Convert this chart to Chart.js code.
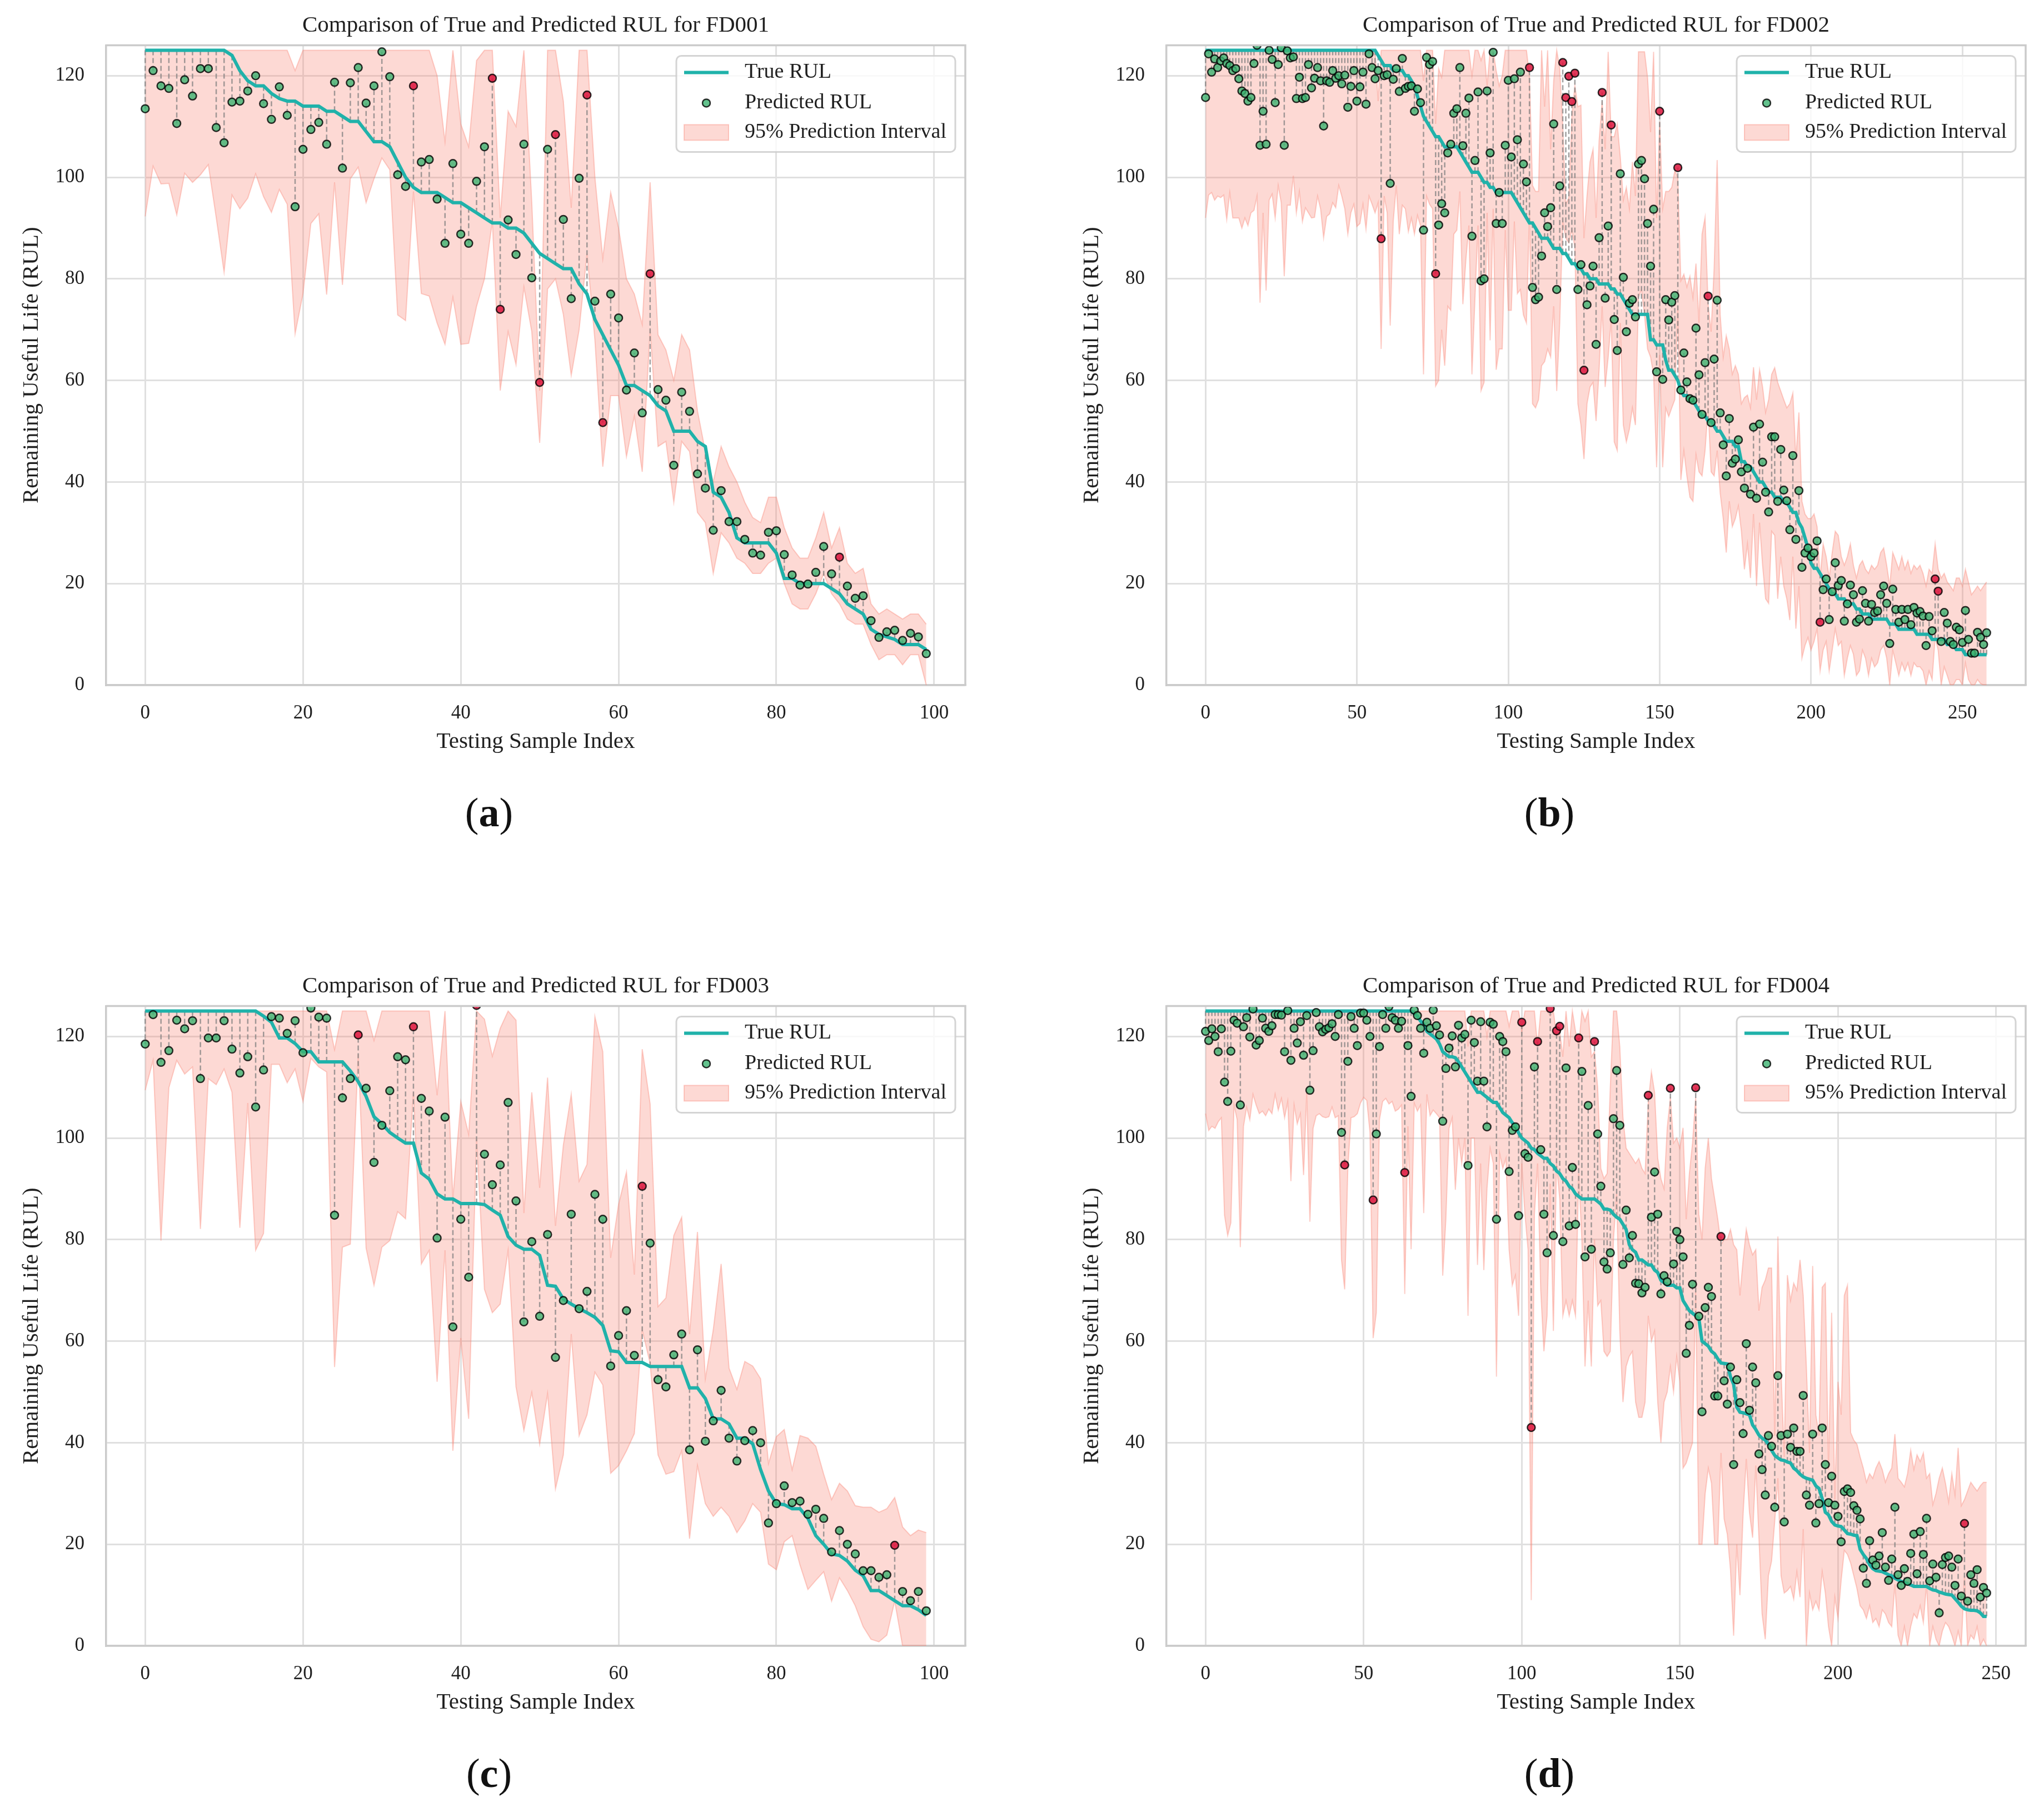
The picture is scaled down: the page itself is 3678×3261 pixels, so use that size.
<!DOCTYPE html>
<html>
<head>
<meta charset="utf-8">
<script src="https://cdn.jsdelivr.net/npm/chart.js@4.4.1/dist/chart.umd.min.js"></script>
<style>
html,body{margin:0;padding:0;background:#ffffff;}
body{width:3678px;height:3261px;position:relative;overflow:hidden;}
.panel{position:absolute;width:1800px;height:1400px;}
.tag{position:absolute;transform:translateX(-50%);font-family:"Liberation Serif",serif;font-size:74px;line-height:74px;color:#111;white-space:nowrap;}
</style>
</head>
<body>
<div class="panel" style="left:0px;top:0px"><canvas id="c1" width="1800" height="1400"></canvas></div>
<div class="panel" style="left:1908px;top:0px"><canvas id="c2" width="1800" height="1400"></canvas></div>
<div class="panel" style="left:0px;top:1729px"><canvas id="c3" width="1800" height="1400"></canvas></div>
<div class="panel" style="left:1908px;top:1729px"><canvas id="c4" width="1800" height="1400"></canvas></div>
<div class="tag" style="left:880px;top:1425px">(<b>a</b>)</div>
<div class="tag" style="left:2788px;top:1425px">(<b>b</b>)</div>
<div class="tag" style="left:880px;top:3154px">(<b>c</b>)</div>
<div class="tag" style="left:2788px;top:3154px">(<b>d</b>)</div>
<script>
// ---------------- DATA ----------------
const yTicks = [0,20,40,60,80,100,120];
const xTicks100 = [0,20,40,60,80,100];
const xTicks250 = [0,50,100,150,200,250];

// FD001
const true001 = [125,125,125,125,125,125,125,125,125,125,
125,124,121,119,118,118,116.5,115.5,115,115,
114,114,114,113,113,112,111,111,109,107,
107,106,103,100,98,97,97,97,96,95,
95,94,93,92,91,91,90,90,89,87,
85,84,83,82,82,79,77,72,69,66,
63,59,59,58,57,55,54,50,50,50,
48,47,38,37,34,29,28,28,28,28,
26,21,21,20,20,20,20,19,18,16,
15,14,11,10,9.5,9,8,8,8,7];
const pred001 = [113.5,121,118,117.5,110.6,119.2,116,121.4,121.4,109.8,
106.8,114.8,115,117,120,114.5,111.4,117.8,112.2,94.2,
105.5,109.4,110.8,106.5,118.7,101.8,118.6,121.6,114.6,118,
124.7,119.8,100.5,98.2,118,103,103.5,95.7,87,102.7,
88.8,87,99.2,106,119.5,74,91.6,84.8,106.5,80.2,
59.6,105.5,108.4,91.7,76.1,99.8,116.2,75.6,51.7,77,
72.3,58.1,65.4,53.6,81,58.2,56.1,43.3,57.7,53.9,
41.6,38.8,30.5,38.3,32.2,32.2,28.7,26,25.6,30.1,
30.4,25.7,21.7,19.7,19.9,22.2,27.3,21.9,25.2,19.5,
17.1,17.6,12.7,9.4,10.5,10.8,8.8,10.2,9.5,6.2];
const lower001 = [92.3,102.2,98.7,98.8,92.6,100.8,99,100.5,102.5,92.1,
81.3,96.5,93.8,95.9,100.7,96.2,93.1,97.6,94.7,69.2,
77.1,90.9,92.8,76.9,99,78.8,99.7,102,95,99.7,
103.8,101.5,72.9,71.8,97.2,77.1,76.6,71.3,67.1,76.4,
67.1,67.3,74.6,80,91.3,58,69.6,63.1,78.4,69.6,
47.7,78,80,73,61,70,85,68,43,57,
57,45,53,42,70,47,48,36,48,46,
34,32,22,30,28,25,24,22,22,24,
25,20,16,15,15,18,22,18,16,13,
12,12,8,5,6,6,4,6,6,0];
const upper001 = [125,125,125,125,125,125,125,125,125,125,
125,125,125,125,125,125,125,125,125,121,
125,125,125,125,125,125,125,125,125,125,
125,125,125,125,125,125,125,120,107,125,
110.5,106,123,125,125,92,113,110,125,95,
58,125,125,115,94,125,125,100,84,97,
90,80,77,71,99,69,66,60,69,66,
54,46,40,47,43,40,36,33,32,37,
37,31,27,25,25,29,34,27,31,24,
22,23,16,14,15,14,13,14,14,12];
const outliers001 = [34,44,45,50,52,56,58,64,88];

// FD002
const true002 = [125,125,125,125,125,125,125,125,125,125,
125,125,125,125,125,125,125,125,125,125,
125,125,125,125,125,125,125,125,125,125,
125,125,125,125,125,125,125,125,125,125,
125,125,125,125,125,125,125,125,125,125,
125,125,125,125,125,125,125,124,123,122,
122,122,121,121,121,121,120,120,119,118,
116,114,112,111,110,109,108,108,107,106,
106,106,106,106,105,104,103,102,101,101,
101,100,99,99,98,98,97,97,97,97,
97,97,96,95,94,93,92,91,91,90,
89,88,88,88,87,86,86,86,85,85,
84,83,83,82,82,81,81,80,80,80,
79,79,79,79,78,78,77,77,76,75,
74,73,73,73,73,73,73,68,68,67,
67,67,64,62,62,61,60,58,57,57,
56,56,55,54,53,53,52,52,51,50,
50,49,48,48,48,47,47,44,44,43,
43,42,41,40,40,39,38,38,37,37,
37,36,36,35,34,34,32,31,29,27,
24,23,23,22,21,20,19,18,18,17,
17,17,16,16,16,15,15,14,14,14,
13,13,13,13,13,13,12,12,12,11,
11,11,11,11,11,10,10,10,10,10,
9,9,9,9,9,8,8,8,7,7,
7,6,6,6,6,6,6,6,6];
const pred002 = [115.7,124.3,120.7,123.3,121.6,122.9,123.5,122.4,122,121,
121.4,119.4,117,116.5,115,115.7,122.4,126,106.3,113,
106.5,125,123.2,114.7,122.2,125.5,106.3,124.9,123.5,123.7,
115.5,119.7,115.5,115.7,122.2,117.6,119.5,121.6,119,110.1,
119,118.7,121,119.5,120,118.4,120.1,113.8,117.9,121,
115,117.8,120.7,114.4,124.3,121.6,119.4,121,87.9,120,
120.2,98.8,119.3,121.4,116.9,123.4,117.5,117.9,118,113,
117.4,114.7,89.6,123.6,122.2,122.8,81,90.6,94.8,93,
104.8,106.5,112.6,113.5,121.6,106.2,112.6,115.6,88.4,103.3,
116.8,79.6,80,117,104.8,124.6,90.9,97,90.9,106.3,
119.1,104,119.4,107.4,120.7,102.6,99.1,121.6,78.3,75.9,
76.4,84.5,93,90.3,94,110.5,77.9,98.3,122.6,115.7,
119.9,114.9,120.5,77.9,82.8,62,74.9,78.6,82.5,67.1,
88.1,116.7,76.2,90.4,110.3,72,65.9,100.7,80.3,69.6,
75.2,75.9,72.5,102.6,103.3,99.7,90.9,82.5,93.7,61.7,
113,60.2,75.9,71.9,75.4,76.7,101.9,58.1,65.4,59.7,
56.4,56.1,70.3,61.1,53.3,63.5,76.6,51.7,64.2,75.8,
53.6,47.3,41.2,52.5,43.7,44.5,48.3,42,38.8,42.7,
37.6,50.8,36.8,51.4,43.9,38,34.1,48.9,48.9,36.2,
46.4,38.4,36.3,30.6,45.2,28.7,38.3,23.2,26,27,
25.3,26,28.4,12.4,18.8,20.9,12.9,18.4,24.1,19.6,
20.6,12.6,16,19.7,17.8,12.4,13,18.6,16.1,12.6,
15.9,14.3,14.6,17.8,19.5,16.1,8.2,18.9,14.9,12.4,
14.9,12.9,14.9,11.9,15.3,14.2,14.5,13.6,7.8,13.5,
10.7,20.9,18.5,8.6,14.3,12.2,8.6,8,11.4,10.9,
8.4,14.7,9,6.3,6.3,10.4,9.4,8,10.3];
const lower002 = [92,96.5,97,95.5,96.3,96,96.5,91.7,97,92,
92,92,90,92,90.5,93,93.5,96.3,75.3,93,
77.7,95.5,96.7,92,98.4,95,80.5,94.5,94.5,100.3,
93,97.2,91.3,94,93,92,92.1,96.3,93.8,88.1,
92.3,92.8,95,94,98.4,96.3,93.8,88.8,93,94.7,
90.3,90.9,94.7,89.8,96.3,94.7,93,95,66.2,96.3,
93,70.8,91.3,98.4,88.8,94.5,93.8,89.3,92,88.8,
92.5,90.5,61.2,96.3,94.7,93.8,58.9,60,70,62.9,
74.6,73.8,88.8,89.6,97.2,75,83.8,90.5,61.2,76.3,
90.5,58,59.6,93,67.9,93.8,62.1,66.2,66.2,89.6,
73.8,73.8,91.3,77.1,77.9,72.9,71.3,93,55.4,54.6,
56.2,62.9,63.7,66.2,64.6,74.6,57.9,71.3,91.3,88,
87.1,89.6,86.3,55.4,51.2,44.5,55.4,58.7,59.6,52,
62.1,74.6,58.7,64.6,72,47.9,46.2,71.3,51.2,47.9,
50.4,54.6,51.2,76.3,77.9,72.9,66.2,64.6,61.2,42.9,
65,42.9,54.6,52.9,54.6,56.2,74.6,40.4,46.2,41.2,
37,36.2,45.4,42,41.2,46.2,54.6,42,41.2,46.2,
37.8,32.8,26.1,36.2,31.2,32.8,35.3,30.3,22.8,27.8,
21.1,33.7,19.5,32,23.6,17,16.1,30.3,29.5,17,
25.3,19.5,17,12.8,25.3,11.1,19.5,5.3,7.8,9.4,
6.9,8.6,11.1,2.8,6.9,8.6,2.8,6.9,11.1,7.8,
8.6,1.9,5.3,7.8,6.1,1.9,2.8,6.9,5.3,1.9,
5.3,3.6,4.4,6.9,7.8,5.3,0,6.9,4.4,1.9,
4.4,2.8,4.4,1.9,4.4,3.6,3.6,2.8,0,2.8,
1.1,9.4,6.9,0,3.6,1.9,0,0,1.1,1.1,
0,4.4,1.1,0,0,1.1,0.3,0,0];
const upper002 = [125,125,125,125,125,125,125,125,125,125,
125,125,125,125,125,125,125,125,125,125,
125,125,125,125,125,125,125,125,125,125,
125,125,125,125,125,125,125,125,125,125,
125,125,125,125,125,125,125,125,125,125,
125,125,125,125,125,125,125,115,125,125,
125,125,125,125,125,125,125,125,125,125,
125,125,119,125,125,125,110.5,121.4,119.7,125,
125,125,125,125,125,125,125,125,120,125,
125,123,125,118,125,125,121,118,120,125,
125,125,125,125,125,125,125,120,98.4,97.2,
97.2,125,113.9,125,105.5,119,125,121.4,110,94.7,
96,112,118,113.9,114.2,88,96.3,103,105.5,92,
107.2,115,105.5,124.7,108,108,110.5,104,95.5,98,
93.8,103,96.3,124.7,124.7,124.7,119.7,108.9,124.7,92,
111,93.8,97.2,97.2,98,101.3,100,79.6,80.9,78.4,
80.5,76.3,83,71.3,88.8,92.1,75,69.6,82.1,103.4,
72.9,64.6,68.8,66.2,61.2,62.9,61.2,55.4,56.6,57.1,
54.6,62.6,56.2,62.1,58.7,53.7,56.2,61.2,62.5,59.6,
57.9,56.2,54.6,55.4,57.5,44.5,53.7,36.2,33.7,32.8,
32.8,33.7,31.2,21.1,27.8,25.3,21.1,26.1,30.3,29.5,
25.3,23.6,25.3,27.8,23.6,21.1,23.6,24.5,22.8,22,
23.6,22.8,23.6,26.1,27,23.6,19.5,26.1,24.5,22.8,
25.3,22.8,24.5,22,23.6,22.8,23.6,22,19.5,22.8,
22,27.8,22.8,21.1,22,20.3,19.5,18.6,21.1,21.1,
19.5,22.8,20.3,17.8,18.6,19.5,18.6,19.5,20.3];
const outliers002 = [58,76,107,118,119,120,121,122,125,131,134,150,156,166,203,241,242];

// FD003
const true003 = [125,125,125,125,125,125,125,125,125,125,
125,125,125,125,125,124,122.8,119.7,119.7,118.6,
117,117,115,115,115,115,113.2,111.1,108.2,104.2,
102.8,101.1,100,99,99,93.1,91.9,89,88,88,
87.1,87.1,87.1,86.9,85.8,84.8,80.6,78.9,78.1,78.1,
76.9,71,70.8,68.3,67.3,66.4,65.6,64.7,63.1,58.1,
57.9,55.8,55.8,55.8,55,55,55,55,55,50.8,
50.8,48.7,44.7,44.7,43.7,40.9,40.9,39.8,34.7,30.5,
28,27.8,27,27,25.1,21.7,20,18.1,17.8,16.7,
14.9,13.8,10.9,10.9,9.9,8.9,7.9,7.9,7.1,6];
const pred003 = [118.5,124.3,114.9,117.2,123.2,121.5,123.1,111.7,119.7,119.7,
123.1,117.5,112.8,116,106.1,113.4,123.9,123.6,120.6,123.1,
116.8,125.6,123.8,123.6,84.8,107.9,111.7,120.3,109.8,95.2,
102.5,109.3,116,115.4,121.9,107.8,105.3,80.3,104.1,62.8,
84,72.6,126.1,96.8,90.8,94.7,107,87.6,63.8,79.6,
64.9,81,56.8,68,85,66.4,69.8,88.9,84,55.1,
61.1,66,57.2,90.5,79.3,52.4,51,57.3,61.4,38.6,
58.3,40.3,44.3,50.3,40.9,36.4,40.4,42.4,40,24.2,
28,31.5,28.2,28.5,25.9,26.9,25.1,18.5,22.7,20,
18.1,14.8,14.8,13.5,14,19.8,10.7,8.9,10.7,6.9];
const lower003 = [109.4,115.3,79.8,109.9,115.3,112.6,114,82.1,111.7,110.5,
113.6,109,82.3,106.9,77.9,81.2,114.5,114.5,110.9,113.6,
107.2,115.7,114,113,54.9,78.5,79.1,116.5,78.3,71,
78.5,79.8,85.5,84.1,109,75.2,77.9,52,77.9,38.4,
60.6,44.7,99.8,70.2,65.6,67.3,77.9,51,42.4,49.9,
39.7,49.7,30.9,37.6,61.4,41.4,45.5,53.9,51.4,34,
35.5,38.4,41.8,62.2,55.6,37.6,33.8,34.3,38.4,21.1,
35.5,28,25.5,27.3,25.5,22.3,24.6,28,26.3,16.1,
15,20.5,21.7,15.9,11.1,12.9,14.6,8.8,13.4,10.9,
7.9,3.8,1.3,0.8,2.1,8.8,0,0,0,0];
const upper003 = [125,125,125,125,125,125,125,125,125,125,
125,125,125,125,125,125,125,125,125,125,
125,125,125,125,117.4,125,125,125,125,119.2,
125,125,125,125,125,125,125,108.4,125,88.1,
107.2,100.7,125,123.4,116.1,121.6,125,123.2,85.2,109,
90.2,111.9,82.7,98.6,108.6,91.5,94.8,123.9,117,76.4,
86.9,93.3,73.1,117.5,106.7,66.8,68.5,80.8,84.4,61.4,
81.5,52.6,62.2,75.2,54.7,50.5,56,55.1,52.6,35.9,
41.2,42.6,34.7,41.4,40.9,39.3,33.8,28.8,32,30.5,
27.6,27.3,27.3,26.3,27,29.2,23.4,21.7,22.8,22.3];
const outliers003 = [27,34,42,63,95];

// FD004
const true004 = [125,125,125,125,125,125,125,125,125,125,
125,125,125,125,125,125,125,125,125,125,
125,125,125,125,125,125,125,125,125,125,
125,125,125,125,125,125,125,125,125,125,
125,125,125,125,125,125,125,125,125,125,
125,125,125,125,125,125,125,125,125,125,
125,125,125,125,125,125,124.5,124,123,122.5,
121,120.5,120,119.5,118.5,117,116.5,116,116,115.8,
115,114,113,112,111,110,109,109,108.5,108,
107.5,107,107,106,105,104.5,104,103,102.5,101,
100,99.5,99,98,97.7,97,96.5,96,96,95,
94.5,93.5,93,92,91.5,90.5,90,89,88.5,88,
88,88,88,88,87.5,87,86,86,85.8,85,
84.4,84,83,82,79,78,77.5,76,76,75.5,
75,75,74,73.5,72,71.5,71,71,71,70.5,
70.5,68,67,66,65.5,65,64.5,60,59.5,59,
58,57.5,56.5,55.7,55.6,55.5,53,51.5,47,46,
45.9,45.7,45.5,43.5,42.6,41.5,40.9,40.5,39.7,38.5,
37.5,37,36.6,36.5,36.2,36,35,34.5,33.8,33.3,
33,32.8,32.6,31.5,31,29,26.3,25.8,24.5,23.8,
23.6,23.5,22.8,22.1,22,21.8,21.7,19,18,17.2,
16,15.2,14.8,14.7,14.6,14.3,14,13.8,13.3,13,
12.7,12.5,12.2,12,11.7,11.7,11.7,11.7,11.7,11.3,
11,10.9,10.6,10.4,10.2,10.1,10,9.3,8.6,7.8,
7.3,7.1,7,7,6.9,6.5,5.8,5.8];
const pred004 = [121,119.2,121.5,120,117,121.5,111,107.2,117.1,123.2,
122.6,106.5,121.9,123.7,119.9,125.4,118.3,119.2,123.6,121.6,
121,122.1,124.3,124.3,124.2,117,125.1,115.3,121.6,118.7,
122.9,116.3,124.1,109.4,117.2,124.7,121.9,120.9,121.4,121.7,
122.5,120,124.3,101.1,94.7,115.1,123.9,121.6,118.2,124.6,
124.6,123.2,120,87.8,100.8,118,124.3,121.6,125.9,123.7,
123.2,121.6,123,93.2,118.2,108.2,125.2,124.1,121.6,116.7,
122.8,121.6,125.2,122.1,120.3,103.3,113.7,117.7,120.1,114,
122.2,119.7,120.4,94.6,123.2,118.8,111.2,122.9,111.2,102.2,
122.8,122.4,84,120,119,117,93.4,101.5,102.2,84.7,
122.8,96.9,96.2,43,114,119,97.7,85,77.4,125.5,
80.8,121.1,122,79.6,113.8,82.7,94.2,83,119.7,113.1,
76.6,106.4,78.1,119,100.8,90.5,75.6,74.2,77.4,103.8,
113.3,102.5,75.1,85.8,76.4,80.8,71.4,71.3,69.5,70.6,
108.4,84.4,93.3,85,69.3,72.9,71.7,109.8,75.2,81.6,
80,76.6,57.6,63.1,71.2,109.9,64.9,46.1,66.6,70.6,
68.8,49.2,49.2,80.6,52.2,47.6,54.9,35.7,52.4,47.9,
41.8,59.5,46.4,54.9,51.8,37.8,34.7,29.7,41.4,39.3,
27.3,53.2,41.4,24.4,41.7,39.1,42.9,38.3,38.3,49.3,
29.7,27.7,41.7,24.2,28,42.9,35.7,28.2,33.4,27.7,
25.5,20.5,30.4,30.9,30.2,27.6,26.7,25,15.3,12.3,
20.7,16.9,15.9,17.7,22.3,15.5,12.9,17.1,27.3,14,
11.9,15.2,12.7,18.2,22,14.2,22.5,18,25.1,12.8,
16.1,13.5,6.5,16,17.4,17.7,15.5,11.9,17.1,9.8,
24.1,8.8,14,12.3,15,9.6,11.5,10.4];
const lower004 = [104.8,101.5,102.3,101.9,103.2,104,84.8,80.8,83.3,106.5,
103.6,78.5,102.3,106.1,103.6,108.6,106.5,104.8,105.3,104.4,
105.7,104.8,108.6,105.5,107.8,104,107.2,91.5,106.5,102.8,
104.8,92.7,109,83.5,101.9,104.4,104.8,104.2,104,104.2,
106.1,104,104.4,76,70.2,94,104,104.2,104.8,106.9,
108,107.4,101.1,60.6,65.6,103.6,107.2,107.8,106.7,107.2,
105.3,105.7,106.5,69.3,102.3,78.1,106.9,105.3,106.5,85.2,
108.6,104.4,105.5,104.8,104,72.9,84,101.9,104,89.8,
100,95,100,65,100,100,75,95,74,90,
98,95,53,97,94,96,78,71,73,65,
95,85,78,9,85,95,70,58,65,91,
62,95,88,65,68,65,68,65,93,80,
55,68,55,80,67,68,58,57,58,80,
89,62,48,55,57,58,48,45,45,48,
65,60,62,48,40,48,50,55,50,57,
52,35,36,38,40,70,20,20,30,35,
32,20,20,38,25,22,15,2,20,10,
26,36.8,26.3,21.3,35.5,21.3,6.3,1.3,13.8,16.7,
24.6,33,13.8,10.4,10.9,11.7,9.2,14.6,9.6,23,
0,10.4,7.1,8.8,7.1,14.6,10.4,3.8,0,9.6,
5.4,12.9,18.8,18,16.3,13.8,11.3,7.9,7.1,5.4,
7.9,4.6,5.4,3.8,7.1,6.3,4.6,3.8,12.1,2.1,
0,3.8,0,3.8,6.3,5.4,7.9,4.6,12.1,0,
3.8,1.3,0,2.9,4.6,3.8,2.1,0,2.9,0,
13.8,0,2.1,1.3,3.8,0,1.3,0];
const upper004 = [125,125,125,125,125,125,125,125,125,125,
125,125,125,125,125,125,125,125,125,125,
125,125,125,125,125,125,125,125,125,125,
125,125,125,125,125,125,125,125,125,125,
125,125,125,125,125,125,125,125,125,125,
125,125,125,125,125,125,125,125,125,125,
125,125,125,125,125,125,125,125,125,125,
125,125,125,125,125,125,125,125,125,125,
125,125,125,118,125,125,125,125,125,120,
125,125,125,125,125,125,122,125,125,125,
121,125,125,125,125,118,125,125,125,124,
125,120,121,116,125,118,125,121,118,125,
123,125,116,117,110,94,92,93,110,125,
125,118,104,98,97,96,95,96,94,93,
107,113,109,96,92,90,102,108,99,100,
98,102,84,93,99,108,85,80,94,100,
92,88,84,79,80,80,82,79,78,69,
76,82,79,77,78,66,70.6,72,74.4,74.4,
41.4,80.6,54,37.2,73,68,71.4,70,76,69,
55,38,74.8,45.5,41.4,70.6,71.4,34.7,65.6,28.8,
52,45.5,69,71,42,40.5,39.7,37.2,35,32.2,
33.9,33,35,36.3,34.7,32.2,33.9,35,41.7,33,
32.2,31.3,33.9,38.5,34.7,37.6,36.3,38,33,33.9,
27.8,30,33,35,32,28.3,33.9,29.7,39,27.6,
28.8,30.5,32.2,31.3,30.5,31.5,32.2,32.2];
const outliers004 = [44,53,63,100,103,105,109,111,112,118,123,140,147,155,163,240];

// ---------------- STYLE ----------------
const FONT = '"Liberation Serif", "Times New Roman", serif';
const TXT = '#1f1f1f';
const GRID = '#e0e0e0';
const SPINE = '#cbcbcb';
const TEAL = '#20b2aa';
const FILL = 'rgba(250,128,114,0.30)';
const EDGE = 'rgba(250,128,114,0.38)';
const GREEN = 'rgba(60,179,113,0.80)';
const RED = 'rgba(220,20,60,0.85)';
const PT_EDGE = 'rgba(0,0,0,0.80)';

const panels = [
  {canvas:'c1', title:'Comparison of True and Predicted RUL for FD001', t:true001, p:pred001, lo:lower001, hi:upper001, out:outliers001, xmin:-4.95, xmax:103.95, xt:xTicks100},
  {canvas:'c2', title:'Comparison of True and Predicted RUL for FD002', t:true002, p:pred002, lo:lower002, hi:upper002, out:outliers002, xmin:-12.9, xmax:270.9, xt:xTicks250},
  {canvas:'c3', title:'Comparison of True and Predicted RUL for FD003', t:true003, p:pred003, lo:lower003, hi:upper003, out:outliers003, xmin:-4.95, xmax:103.95, xt:xTicks100},
  {canvas:'c4', title:'Comparison of True and Predicted RUL for FD004', t:true004, p:pred004, lo:lower004, hi:upper004, out:outliers004, xmin:-12.35, xmax:259.35, xt:xTicks250}
];

// dashed connectors between true and predicted values (drawn right after the interval)
const connectorPlugin = {
  id: 'connectors',
  afterDatasetDraw(chart, args) {
    if (args.index !== 1) return;
    const {ctx, chartArea: a, scales: {x, y}} = chart;
    const tr = chart.data.datasets[2].data, pr = chart.data.datasets[3].data;
    ctx.save();
    ctx.beginPath(); ctx.rect(a.left, a.top, a.width, a.height); ctx.clip();
    ctx.strokeStyle = 'rgba(128,128,128,0.75)';
    ctx.lineWidth = 2.5;
    ctx.setLineDash([9, 5]);
    for (let i = 0; i < pr.length; i++) {
      const px = x.getPixelForValue(pr[i].x);
      ctx.beginPath();
      ctx.moveTo(px, y.getPixelForValue(tr[i].y));
      ctx.lineTo(px, y.getPixelForValue(pr[i].y));
      ctx.stroke();
    }
    ctx.restore();
  }
};

// top and right spines
const spinePlugin = {
  id: 'spines',
  afterDatasetsDraw(chart) {
    const {ctx, chartArea: a} = chart;
    ctx.save();
    ctx.strokeStyle = SPINE; ctx.lineWidth = 3.5;
    ctx.beginPath();
    ctx.moveTo(a.left, a.top); ctx.lineTo(a.right, a.top); ctx.lineTo(a.right, a.bottom);
    ctx.stroke();
    ctx.restore();
  }
};

// legend box in upper-right of plot area
const legendPlugin = {
  id: 'rulLegend',
  afterDatasetsDraw(chart) {
    const {ctx, chartArea: a} = chart;
    const ds = chart.data.datasets;
    const w = 502, h = 173;
    const x0 = a.right - 18 - w, y0 = a.top + 19;
    ctx.save();
    ctx.beginPath();
    ctx.roundRect(x0, y0, w, h, 9);
    ctx.fillStyle = 'rgba(255,255,255,0.8)'; ctx.fill();
    ctx.strokeStyle = 'rgba(204,204,204,0.85)'; ctx.lineWidth = 3; ctx.stroke();
    const rows = [a.top + 49, a.top + 104, a.top + 157];
    // true line
    ctx.strokeStyle = TEAL; ctx.lineWidth = 6; ctx.lineCap = 'butt';
    ctx.beginPath(); ctx.moveTo(x0 + 14, rows[0]); ctx.lineTo(x0 + 94, rows[0]); ctx.stroke();
    // marker
    ctx.beginPath(); ctx.arc(x0 + 54, rows[1], 7, 0, Math.PI * 2);
    ctx.fillStyle = GREEN; ctx.fill();
    ctx.strokeStyle = PT_EDGE; ctx.lineWidth = 2.5; ctx.stroke();
    // patch
    ctx.fillStyle = FILL; ctx.fillRect(x0 + 14, rows[2] - 14, 80, 28);
    ctx.strokeStyle = EDGE; ctx.lineWidth = 2; ctx.strokeRect(x0 + 14, rows[2] - 14, 80, 28);
    // labels
    ctx.fillStyle = TXT;
    ctx.font = '38px ' + FONT;
    ctx.textBaseline = 'middle'; ctx.textAlign = 'left';
    ctx.fillText(ds[2].label, x0 + 123, rows[0]);
    ctx.fillText(ds[3].label, x0 + 123, rows[1]);
    ctx.fillText(ds[1].label, x0 + 123, rows[2]);
    ctx.restore();
  }
};

function buildChart(cfg) {
  const xy = arr => arr.map((v, i) => ({x: i, y: v}));
  const outSet = new Set(cfg.out);
  const colors = cfg.p.map((v, i) => outSet.has(i) ? RED : GREEN);
  const gridOpts = {color: GRID, lineWidth: 3, drawTicks: false};
  const borderOpts = {display: true, color: SPINE, width: 3.5};
  new Chart(document.getElementById(cfg.canvas), {
    type: 'line',
    data: {
      datasets: [
        {label: 'Lower bound', data: xy(cfg.lo), borderColor: EDGE, borderWidth: 2, pointRadius: 0, fill: false, tension: 0, order: 4},
        {label: '95% Prediction Interval', data: xy(cfg.hi), borderColor: EDGE, borderWidth: 2, backgroundColor: FILL, pointRadius: 0, fill: '-1', tension: 0, order: 3},
        {label: 'True RUL', data: xy(cfg.t), borderColor: TEAL, borderWidth: 6, pointRadius: 0, fill: false, tension: 0, order: 1},
        {label: 'Predicted RUL', data: xy(cfg.p), showLine: false, pointRadius: 7, pointBackgroundColor: colors, pointBorderColor: PT_EDGE, pointBorderWidth: 2.5, borderWidth: 0, fill: false, order: 0}
      ]
    },
    options: {
      responsive: false,
      animation: false,
      events: [],
      layout: {padding: {left: 0, top: 0, right: 63, bottom: 0}},
      plugins: {
        legend: {display: false},
        tooltip: {enabled: false},
        title: {display: true, text: cfg.title, fullSize: false, color: TXT,
                font: {family: FONT, size: 41, weight: 'normal'}, padding: {top: 22, bottom: 10.2}}
      },
      scales: {
        x: {
          type: 'linear', min: cfg.xmin, max: cfg.xmax,
          afterBuildTicks: s => { s.ticks = cfg.xt.map(v => ({value: v})); },
          afterFit: s => { s.height = 167; },
          grid: gridOpts, border: borderOpts,
          ticks: {font: {family: FONT, size: 35}, color: TXT, padding: 30, maxRotation: 0, autoSkip: false},
          title: {display: true, text: 'Testing Sample Index', color: TXT, font: {family: FONT, size: 41}, padding: {top: 0, bottom: 40}}
        },
        y: {
          type: 'linear', min: 0, max: 126,
          afterBuildTicks: s => { s.ticks = yTicks.map(v => ({value: v})); },
          afterFit: s => { s.width = 191; },
          grid: gridOpts, border: borderOpts,
          ticks: {font: {family: FONT, size: 35}, color: TXT, padding: 39},
          title: {display: true, text: 'Remaining Useful Life (RUL)', color: TXT, font: {family: FONT, size: 41}, padding: {top: 33, bottom: 0}}
        }
      }
    },
    plugins: [connectorPlugin, spinePlugin, legendPlugin]
  });
}

panels.forEach(buildChart);
</script>
</body>
</html>
